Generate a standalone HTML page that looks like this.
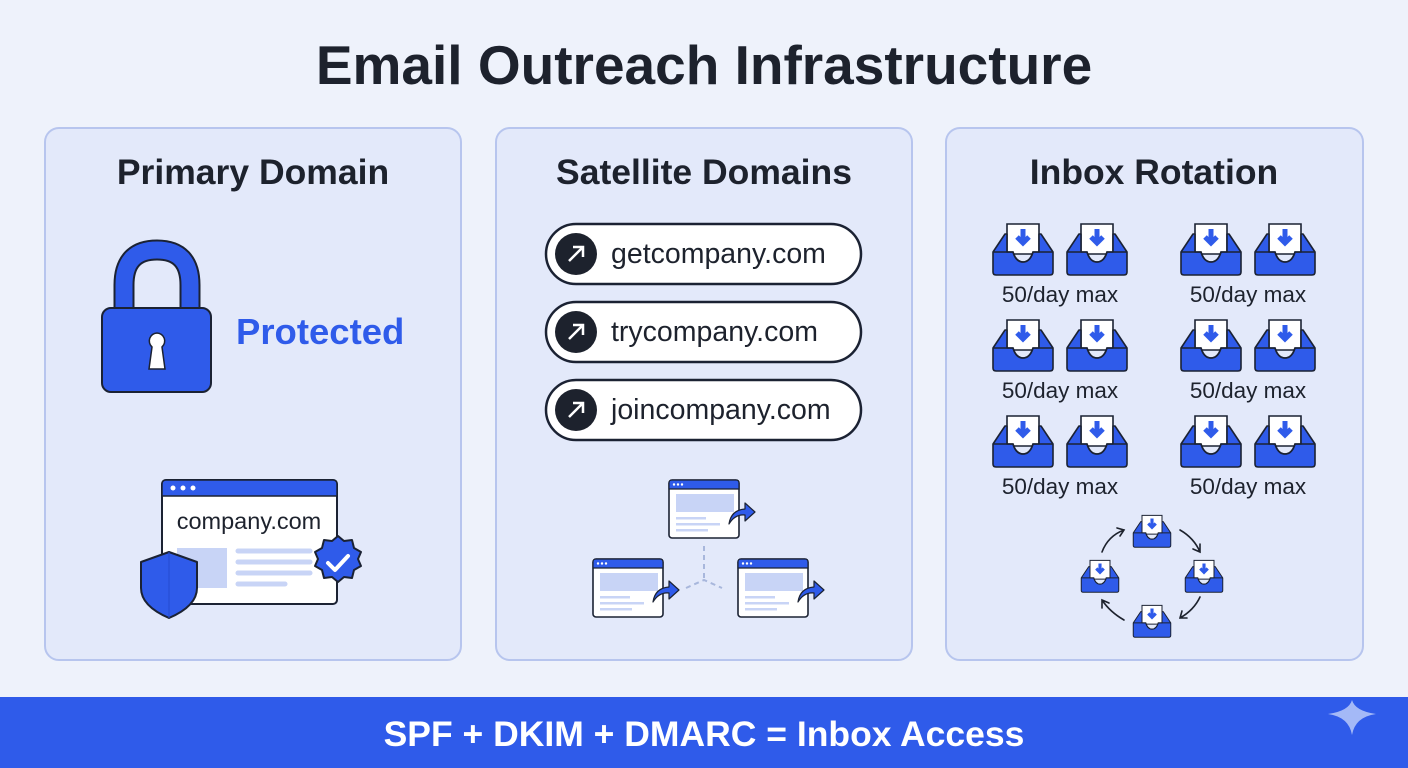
<!DOCTYPE html>
<html><head><meta charset="utf-8"><style>
html,body{margin:0;padding:0;background:#eef2fb;}
svg{display:block;}
text{font-family:"Liberation Sans","DejaVu Sans",sans-serif;}
</style></head><body>
<svg width="1408" height="768" viewBox="0 0 1408 768" xmlns="http://www.w3.org/2000/svg">
<defs>
<symbol id="inbox" viewBox="0 0 64 54">
<path d="M16 2 H48 V32 H16 Z" fill="#fff" stroke="#1b2233" stroke-width="1.6"/>
<path d="M32 7 V20 M26 15 L32 21 L38 15" stroke="#2f5bea" stroke-width="5" fill="none" stroke-linejoin="miter"/>
<path d="M2 30 L14 12 L16 12 L16 30 H22 Q25 40 32 40 Q39 40 42 30 H48 V12 L50 12 L62 30 V50 Q62 53 59 53 H5 Q2 53 2 50 Z" fill="#2f5bea" stroke="#1b2233" stroke-width="1.6" stroke-linejoin="round"/>
<path d="M2 30 H22 Q25 40 32 40 Q39 40 42 30 H62" fill="none" stroke="#1b2233" stroke-width="1.6"/>
</symbol>
<symbol id="win" viewBox="0 0 72 60">
<rect x="1" y="1" width="70" height="58" rx="3" fill="#fff" stroke="#1b2233" stroke-width="1.6"/>
<path d="M1 10 V4 Q1 1 4 1 H68 Q71 1 71 4 V10 Z" fill="#2f5bea" stroke="#1b2233" stroke-width="1.2"/>
<circle cx="6" cy="5.5" r="1.2" fill="#fff"/><circle cx="10" cy="5.5" r="1.2" fill="#fff"/><circle cx="14" cy="5.5" r="1.2" fill="#fff"/>
<rect x="8" y="15" width="58" height="18" fill="#c8d4f6"/>
<rect x="8" y="38" width="30" height="2.5" fill="#c8d4f6"/>
<rect x="8" y="44" width="44" height="2.5" fill="#c8d4f6"/>
<rect x="8" y="50" width="32" height="2.5" fill="#c8d4f6"/>
</symbol>
<symbol id="curv" viewBox="0 0 30 26">
<path d="M2 24 Q4 10 18 9 V3 L28 12 L18 21 V15 Q8 14 2 24 Z" fill="#2f5bea" stroke="#1b2233" stroke-width="1.2" stroke-linejoin="round"/>
</symbol>
</defs>

<text x="704" y="84" text-anchor="middle" font-size="55" font-weight="700" fill="#1d222d">Email Outreach Infrastructure</text>

<g fill="#e3e9fa" stroke="#b7c5ee" stroke-width="2">
<rect x="45" y="128" width="416" height="532" rx="14"/>
<rect x="496" y="128" width="416" height="532" rx="14"/>
<rect x="946" y="128" width="417" height="532" rx="14"/>
</g>
<g font-size="35.5" font-weight="700" fill="#1d222d" text-anchor="middle">
<text x="253" y="184">Primary Domain</text>
<text x="704" y="184">Satellite Domains</text>
<text x="1154" y="184">Inbox Rotation</text>
</g>

<!-- lock -->
<path d="M124 310 V285 Q124 250 157 250 Q190 250 190 285 V310" fill="none" stroke="#1b2233" stroke-width="21"/>
<path d="M124 310 V285 Q124 250 157 250 Q190 250 190 285 V310" fill="none" stroke="#2f5bea" stroke-width="17"/>
<rect x="102" y="308" width="109" height="84" rx="9" fill="#2f5bea" stroke="#1b2233" stroke-width="2"/>
<path d="M157 333 a8 8 0 0 1 5 14 l3 22 h-16 l3 -22 a8 8 0 0 1 5 -14 z" fill="#fff" stroke="#1b2233" stroke-width="1.5"/>
<text x="236" y="344" font-size="36.5" font-weight="700" fill="#2f5bea">Protected</text>

<!-- browser company.com -->
<rect x="162" y="480" width="175" height="124" rx="4" fill="#fff" stroke="#1b2233" stroke-width="2"/>
<path d="M162 496 V484 Q162 480 166 480 H333 Q337 480 337 484 V496 Z" fill="#2f5bea" stroke="#1b2233" stroke-width="1.5"/>
<circle cx="173" cy="488" r="2.5" fill="#fff"/><circle cx="183" cy="488" r="2.5" fill="#fff"/><circle cx="193" cy="488" r="2.5" fill="#fff"/>
<text x="249" y="529" text-anchor="middle" font-size="23.5" fill="#1d222d">company.com</text>
<rect x="177" y="548" width="50" height="40" fill="#c8d4f6"/>
<g stroke="#c8d4f6" stroke-width="5" stroke-linecap="round">
<line x1="238" y1="551" x2="310" y2="551"/><line x1="238" y1="562" x2="310" y2="562"/><line x1="238" y1="573" x2="310" y2="573"/><line x1="238" y1="584" x2="285" y2="584"/>
</g>
<path d="M169 552 L197 562 V588 Q197 606 169 618 Q141 606 141 588 V562 Z" fill="#2f5bea" stroke="#1b2233" stroke-width="2" stroke-linejoin="round"/>
<path d="M169 552 V618" stroke="#244bd0" stroke-width="1"/>
<path d="M338 536 l6 5 8 -1 2 8 7 4 -3 7 3 7 -7 4 -2 8 -8 -1 -6 5 -6 -5 -8 1 -2 -8 -7 -4 3 -7 -3 -7 7 -4 2 -8 8 1 z" fill="#2f5bea" stroke="#1b2233" stroke-width="2" stroke-linejoin="round"/>
<path d="M328 563 l7 7 13 -14" fill="none" stroke="#fff" stroke-width="4" stroke-linecap="round" stroke-linejoin="round"/>

<!-- pills -->
<g>
<rect x="546" y="224" width="315" height="60" rx="30" fill="#fff" stroke="#1b2233" stroke-width="2.5"/>
<circle cx="576" cy="254" r="21" fill="#1d222d"/>
<path d="M569 261 L583 247 M573 247 H583 V257" stroke="#fff" stroke-width="2.5" fill="none"/>
<text x="611" y="263" font-size="28.5" fill="#1d222d">getcompany.com</text>
<rect x="546" y="302" width="315" height="60" rx="30" fill="#fff" stroke="#1b2233" stroke-width="2.5"/>
<circle cx="576" cy="332" r="21" fill="#1d222d"/>
<path d="M569 339 L583 325 M573 325 H583 V335" stroke="#fff" stroke-width="2.5" fill="none"/>
<text x="611" y="341" font-size="28.5" fill="#1d222d">trycompany.com</text>
<rect x="546" y="380" width="315" height="60" rx="30" fill="#fff" stroke="#1b2233" stroke-width="2.5"/>
<circle cx="576" cy="410" r="21" fill="#1d222d"/>
<path d="M569 417 L583 403 M573 403 H583 V413" stroke="#fff" stroke-width="2.5" fill="none"/>
<text x="611" y="419" font-size="28.5" fill="#1d222d">joincompany.com</text>
</g>

<!-- satellite windows -->
<path d="M704 546 V580 M686 588 L704 580 L722 588" stroke="#a8b7dc" stroke-width="2" stroke-dasharray="5 4" fill="none"/>
<use href="#win" x="668" y="479" width="72" height="60"/>
<use href="#curv" x="727" y="500" width="30" height="26"/>
<use href="#win" x="592" y="558" width="72" height="60"/>
<use href="#curv" x="651" y="578" width="30" height="26"/>
<use href="#win" x="737" y="558" width="72" height="60"/>
<use href="#curv" x="796" y="578" width="30" height="26"/>

<!-- inboxes -->
<g>
<use href="#inbox" x="991" y="222" width="64" height="54"/><use href="#inbox" x="1065" y="222" width="64" height="54"/>
<use href="#inbox" x="1179" y="222" width="64" height="54"/><use href="#inbox" x="1253" y="222" width="64" height="54"/>
<use href="#inbox" x="991" y="318" width="64" height="54"/><use href="#inbox" x="1065" y="318" width="64" height="54"/>
<use href="#inbox" x="1179" y="318" width="64" height="54"/><use href="#inbox" x="1253" y="318" width="64" height="54"/>
<use href="#inbox" x="991" y="414" width="64" height="54"/><use href="#inbox" x="1065" y="414" width="64" height="54"/>
<use href="#inbox" x="1179" y="414" width="64" height="54"/><use href="#inbox" x="1253" y="414" width="64" height="54"/>
</g>
<g font-size="22.5" fill="#1d222d" text-anchor="middle">
<text x="1060" y="302">50/day max</text><text x="1248" y="302">50/day max</text>
<text x="1060" y="398">50/day max</text><text x="1248" y="398">50/day max</text>
<text x="1060" y="494">50/day max</text><text x="1248" y="494">50/day max</text>
</g>
<use href="#inbox" x="1132" y="514" width="40" height="34"/>
<use href="#inbox" x="1080" y="559" width="40" height="34"/>
<use href="#inbox" x="1184" y="559" width="40" height="34"/>
<use href="#inbox" x="1132" y="604" width="40" height="34"/>
<g stroke="#1d222d" stroke-width="1.6" fill="none" stroke-linecap="round">
<path d="M1102 552 Q1108 536 1124 530 M1117 528 L1124 530 L1120 536"/>
<path d="M1180 530 Q1194 538 1200 552 M1200 544 L1200 552 L1193 549"/>
<path d="M1200 597 Q1194 610 1180 618 M1182 611 L1180 618 L1187 618"/>
<path d="M1124 620 Q1110 612 1102 600 M1102 608 L1102 600 L1109 603"/>
</g>

<!-- bottom bar -->
<rect x="0" y="697" width="1408" height="71" fill="#2f5bea"/>
<text x="704" y="746" text-anchor="middle" font-size="35.5" font-weight="700" fill="#fff">SPF + DKIM + DMARC = Inbox Access</text>
<path d="M1352 700 Q1355 711 1376 714 Q1355 717 1352 735 Q1349 717 1328 714 Q1349 711 1352 700 Z" fill="#a4b9f7"/>
</svg>
</body></html>
